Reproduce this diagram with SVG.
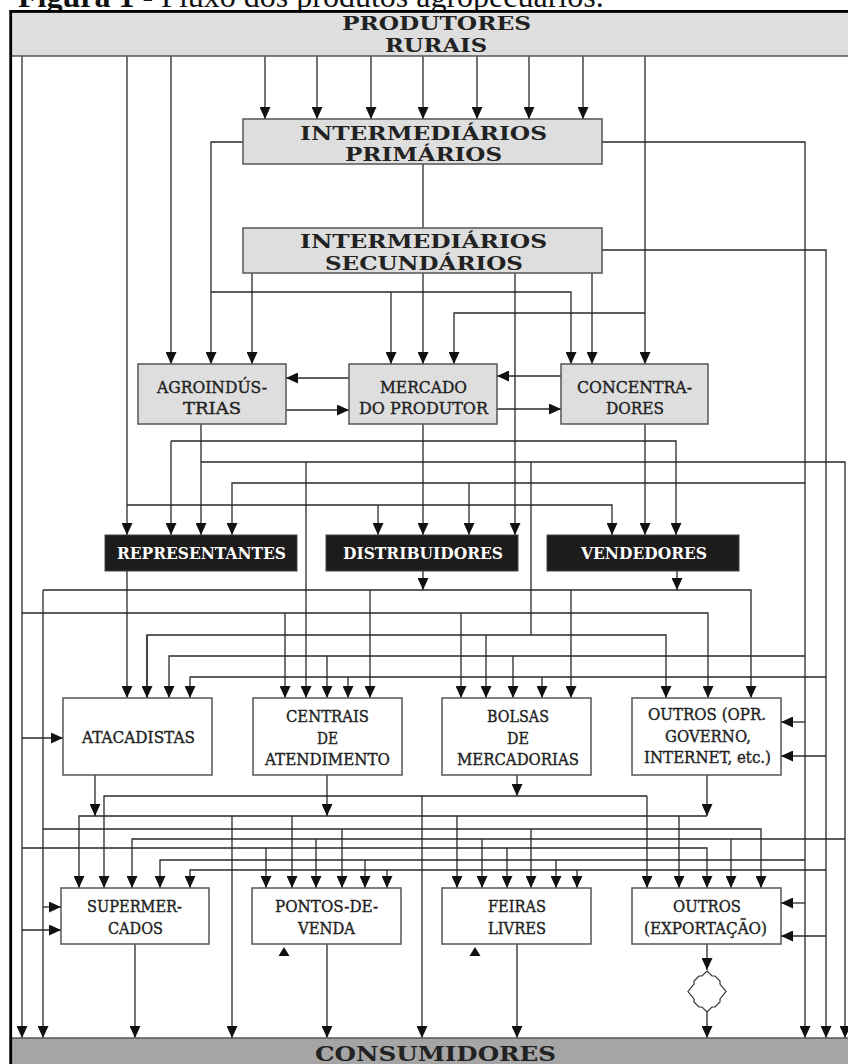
<svg xmlns="http://www.w3.org/2000/svg" width="848" height="1064" viewBox="0 0 848 1064">
<defs>
<marker id="ah" viewBox="0 0 12 11" refX="12" refY="5.5" markerWidth="12" markerHeight="11" markerUnits="userSpaceOnUse" orient="auto"><path d="M0,0L12,5.5L0,11z" fill="#111"/></marker>
<style>
.ln{fill:none;stroke:#2a2a2a;stroke-width:1.3}
.ar{marker-end:url(#ah)}
.bg{fill:#dedede;stroke:#555;stroke-width:1.5}
.bw{fill:#fff;stroke:#555;stroke-width:1.5}
.bk{fill:#1e1b1b;stroke:#444;stroke-width:1}
.t{font-family:'DejaVu Serif','Liberation Serif',serif;font-size:17px;fill:#222;stroke:#222;stroke-width:0.4;text-anchor:middle}
.tb{font-family:'DejaVu Serif','Liberation Serif',serif;font-size:18.5px;font-weight:bold;fill:#222;text-anchor:middle}
.tk{font-family:'DejaVu Serif','Liberation Serif',serif;font-size:16.5px;font-weight:bold;fill:#fff;text-anchor:middle}
.tri{fill:#111}
</style>
</defs>
<rect width="848" height="1064" fill="#fff"/>
<text id="title" x="18" y="7" font-family="'Liberation Serif',serif" font-size="32" fill="#111"><tspan font-weight="bold">Figura 1</tspan> - Fluxo dos produtos agropecuários.</text>

<g id="connectors">
<path class="ln ar" d="M22,56V1038"/>
<path class="ln ar" d="M127,56V535"/>
<path class="ln ar" d="M171,56V364"/>
<path class="ln ar" d="M265,56V119"/>
<path class="ln ar" d="M317,56V119"/>
<path class="ln ar" d="M371,56V119"/>
<path class="ln ar" d="M423,56V119"/>
<path class="ln ar" d="M477,56V119"/>
<path class="ln ar" d="M529,56V119"/>
<path class="ln ar" d="M583,56V119"/>
<path class="ln ar" d="M645,56V364"/>
<path class="ln ar" d="M645,313H454V364"/>
<path class="ln ar" d="M243,142H211V364"/>
<path class="ln ar" d="M602,142H805V1038"/>
<path class="ln" d="M423,164V228"/>
<path class="ln ar" d="M602,250H826V1038"/>
<path class="ln ar" d="M252,273V364"/>
<path class="ln ar" d="M423,273V364"/>
<path class="ln ar" d="M515,273V535"/>
<path class="ln ar" d="M592,273V364"/>
<path class="ln ar" d="M211,292H571V364"/>
<path class="ln ar" d="M391,292V364"/>
<path class="ln ar" d="M349,378H286"/>
<path class="ln ar" d="M286,410H349"/>
<path class="ln ar" d="M561,376H497"/>
<path class="ln ar" d="M497,409H561"/>
<path class="ln ar" d="M201,424V535"/>
<path class="ln ar" d="M201,462H845V1038"/>
<path class="ln ar" d="M306,462V698"/>
<path class="ln" d="M531,462V635"/>
<path class="ln ar" d="M147,698V635H666V698"/>
<path class="ln ar" d="M147,635V698"/>
<path class="ln ar" d="M486,635V698"/>
<path class="ln ar" d="M423,424V535"/>
<path class="ln ar" d="M171,441H676V535"/>
<path class="ln ar" d="M171,441V535"/>
<path class="ln ar" d="M645,424V535"/>
<path class="ln ar" d="M805,483H232V535"/>
<path class="ln ar" d="M469,483V535"/>
<path class="ln ar" d="M127,505H612V535"/>
<path class="ln ar" d="M378,505V535"/>
<path class="ln ar" d="M127,571V698"/>
<path class="ln ar" d="M423,571V590"/>
<path class="ln ar" d="M677,571V590"/>
<path class="ln ar" d="M43,590H751V698"/>
<path class="ln ar" d="M43,590V1038"/>
<path class="ln ar" d="M370,590V698"/>
<path class="ln ar" d="M571,590V698"/>
<path class="ln ar" d="M22,613H708V698"/>
<path class="ln ar" d="M285,613V698"/>
<path class="ln ar" d="M461,613V698"/>
<path class="ln ar" d="M805,656H169V698"/>
<path class="ln ar" d="M327,656V698"/>
<path class="ln ar" d="M513,656V698"/>
<path class="ln ar" d="M826,677H190V698"/>
<path class="ln ar" d="M348,677V698"/>
<path class="ln ar" d="M542,677V698"/>
<path class="ln ar" d="M805,722H781"/>
<path class="ln ar" d="M826,756H781"/>
<path class="ln ar" d="M22,738H63"/>
<path class="ln ar" d="M95,775V816"/>
<path class="ln ar" d="M327,775V816"/>
<path class="ln ar" d="M707,775V816"/>
<path class="ln ar" d="M517,775V796"/>
<path class="ln ar" d="M647,796H104V888"/>
<path class="ln ar" d="M647,796V888"/>
<path class="ln ar" d="M422,796V1038"/>
<path class="ln ar" d="M707,816H79V888"/>
<path class="ln ar" d="M232,816V1038"/>
<path class="ln ar" d="M292,816V888"/>
<path class="ln ar" d="M457,816V888"/>
<path class="ln ar" d="M679,816V888"/>
<path class="ln ar" d="M43,829H761V888"/>
<path class="ln ar" d="M342,829V888"/>
<path class="ln ar" d="M531,829V888"/>
<path class="ln ar" d="M845,839H132V888"/>
<path class="ln ar" d="M316,839V888"/>
<path class="ln ar" d="M482,839V888"/>
<path class="ln ar" d="M731,839V888"/>
<path class="ln ar" d="M22,848H707V888"/>
<path class="ln ar" d="M266,848V888"/>
<path class="ln ar" d="M507,848V888"/>
<path class="ln ar" d="M805,860H160V888"/>
<path class="ln ar" d="M365,860V888"/>
<path class="ln ar" d="M556,860V888"/>
<path class="ln ar" d="M826,870H190V888"/>
<path class="ln ar" d="M387,870V888"/>
<path class="ln ar" d="M577,870V888"/>
<path class="ln ar" d="M43,907H61"/>
<path class="ln ar" d="M22,930H61"/>
<path class="ln ar" d="M805,903H781"/>
<path class="ln ar" d="M826,936H781"/>
<path class="ln ar" d="M135,944V1038"/>
<path class="ln ar" d="M327,944V1038"/>
<path class="ln ar" d="M517,944V1038"/>
<path class="ln ar" d="M707,944V970"/>
<path class="ln ar" d="M707,1012V1038"/>
<path d="M707,971L712,976L715,976L720,981L720,984L726,991.5L720,999L720,1002L715,1007L712,1007L707,1012L702,1007L699,1007L694,1002L694,999L688,991.5L694,984L694,981L699,976L702,976Z" fill="#fff" stroke="#333" stroke-width="1.2"/>
<polygon class="tri" points="284,947 278.5,956 289.5,956"/>
<polygon class="tri" points="475,947 469.5,956 480.5,956"/>
</g>

<g id="produtores"><rect class="bg" x="11" y="12" width="838" height="44"/>
<text class="tb" x="436.5" y="30" textLength="189" lengthAdjust="spacingAndGlyphs">PRODUTORES</text>
<text class="tb" x="436" y="52" textLength="102" lengthAdjust="spacingAndGlyphs">RURAIS</text></g>
<g id="int-primarios"><rect class="bg" x="243" y="119" width="359" height="45"/>
<text class="tb" x="423.5" y="140" textLength="247" lengthAdjust="spacingAndGlyphs">INTERMEDIÁRIOS</text>
<text class="tb" x="423.5" y="161" textLength="157" lengthAdjust="spacingAndGlyphs">PRIMÁRIOS</text></g>
<g id="int-secundarios"><rect class="bg" x="243" y="228" width="359" height="45"/>
<text class="tb" x="423.5" y="248" textLength="247" lengthAdjust="spacingAndGlyphs">INTERMEDIÁRIOS</text>
<text class="tb" x="424" y="270" textLength="198" lengthAdjust="spacingAndGlyphs">SECUNDÁRIOS</text></g>
<g id="agroindustrias"><rect class="bg" x="138" y="364" width="148" height="60"/>
<text class="t" x="212" y="393" textLength="110" lengthAdjust="spacingAndGlyphs">AGROINDÚS-</text>
<text class="t" x="212" y="414" textLength="58" lengthAdjust="spacingAndGlyphs">TRIAS</text></g>
<g id="mercado"><rect class="bg" x="349" y="364" width="148" height="60"/>
<text class="t" x="423.5" y="393" textLength="87" lengthAdjust="spacingAndGlyphs">MERCADO</text>
<text class="t" x="423.5" y="414" textLength="129" lengthAdjust="spacingAndGlyphs">DO PRODUTOR</text></g>
<g id="concentradores"><rect class="bg" x="561" y="364" width="147" height="60"/>
<text class="t" x="634.5" y="393" textLength="115" lengthAdjust="spacingAndGlyphs">CONCENTRA-</text>
<text class="t" x="635" y="414" textLength="58" lengthAdjust="spacingAndGlyphs">DORES</text></g>
<g id="representantes"><rect class="bk" x="105" y="535" width="192" height="36"/>
<text class="tk" x="201.5" y="559" textLength="169" lengthAdjust="spacingAndGlyphs">REPRESENTANTES</text></g>
<g id="distribuidores"><rect class="bk" x="326" y="535" width="192" height="36"/>
<text class="tk" x="423" y="559" textLength="160" lengthAdjust="spacingAndGlyphs">DISTRIBUIDORES</text></g>
<g id="vendedores"><rect class="bk" x="547" y="535" width="192" height="36"/>
<text class="tk" x="644" y="559" textLength="126" lengthAdjust="spacingAndGlyphs">VENDEDORES</text></g>
<g id="atacadistas"><rect class="bw" x="63" y="698" width="149" height="77"/>
<text class="t" x="138.5" y="743" textLength="113" lengthAdjust="spacingAndGlyphs">ATACADISTAS</text></g>
<g id="centrais"><rect class="bw" x="253" y="698" width="149" height="77"/>
<text class="t" x="327.5" y="722" textLength="83" lengthAdjust="spacingAndGlyphs">CENTRAIS</text>
<text class="t" x="327.5" y="744" textLength="21" lengthAdjust="spacingAndGlyphs">DE</text>
<text class="t" x="327.5" y="765" textLength="125" lengthAdjust="spacingAndGlyphs">ATENDIMENTO</text></g>
<g id="bolsas"><rect class="bw" x="442" y="698" width="149" height="77"/>
<text class="t" x="518" y="722" textLength="62" lengthAdjust="spacingAndGlyphs">BOLSAS</text>
<text class="t" x="518" y="744" textLength="22" lengthAdjust="spacingAndGlyphs">DE</text>
<text class="t" x="518" y="765" textLength="122" lengthAdjust="spacingAndGlyphs">MERCADORIAS</text></g>
<g id="outros-opr"><rect class="bw" x="632" y="698" width="149" height="77"/>
<text class="t" x="707" y="720" textLength="118" lengthAdjust="spacingAndGlyphs">OUTROS (OPR.</text>
<text class="t" x="708" y="742" textLength="86" lengthAdjust="spacingAndGlyphs">GOVERNO,</text>
<text class="t" x="707.5" y="763" textLength="127" lengthAdjust="spacingAndGlyphs">INTERNET, etc.)</text></g>
<g id="supermercados"><rect class="bw" x="61" y="888" width="148" height="56"/>
<text class="t" x="134.5" y="912" textLength="95" lengthAdjust="spacingAndGlyphs">SUPERMER-</text>
<text class="t" x="135.5" y="934" textLength="55" lengthAdjust="spacingAndGlyphs">CADOS</text></g>
<g id="pontos"><rect class="bw" x="252" y="888" width="149" height="56"/>
<text class="t" x="326.5" y="912" textLength="103" lengthAdjust="spacingAndGlyphs">PONTOS-DE-</text>
<text class="t" x="326.5" y="934" textLength="57" lengthAdjust="spacingAndGlyphs">VENDA</text></g>
<g id="feiras"><rect class="bw" x="442" y="888" width="149" height="56"/>
<text class="t" x="517" y="912" textLength="58" lengthAdjust="spacingAndGlyphs">FEIRAS</text>
<text class="t" x="517" y="934" textLength="58" lengthAdjust="spacingAndGlyphs">LIVRES</text></g>
<g id="outros-exp"><rect class="bw" x="632" y="888" width="149" height="56"/>
<text class="t" x="707" y="912" textLength="68" lengthAdjust="spacingAndGlyphs">OUTROS</text>
<text class="t" x="705.5" y="934" textLength="123" lengthAdjust="spacingAndGlyphs">(EXPORTAÇÃO)</text></g>
<g id="consumidores"><rect x="11" y="1038" width="838" height="30" fill="#a5a5a5" stroke="#555" stroke-width="1.5"/>
<text class="tb" x="435.5" y="1061" textLength="241" lengthAdjust="spacingAndGlyphs" style="font-size:20px">CONSUMIDORES</text></g>
<path id="frame" d="M10.7,1064V11.3H848" fill="none" stroke="#000" stroke-width="2.8"/>
</svg>
